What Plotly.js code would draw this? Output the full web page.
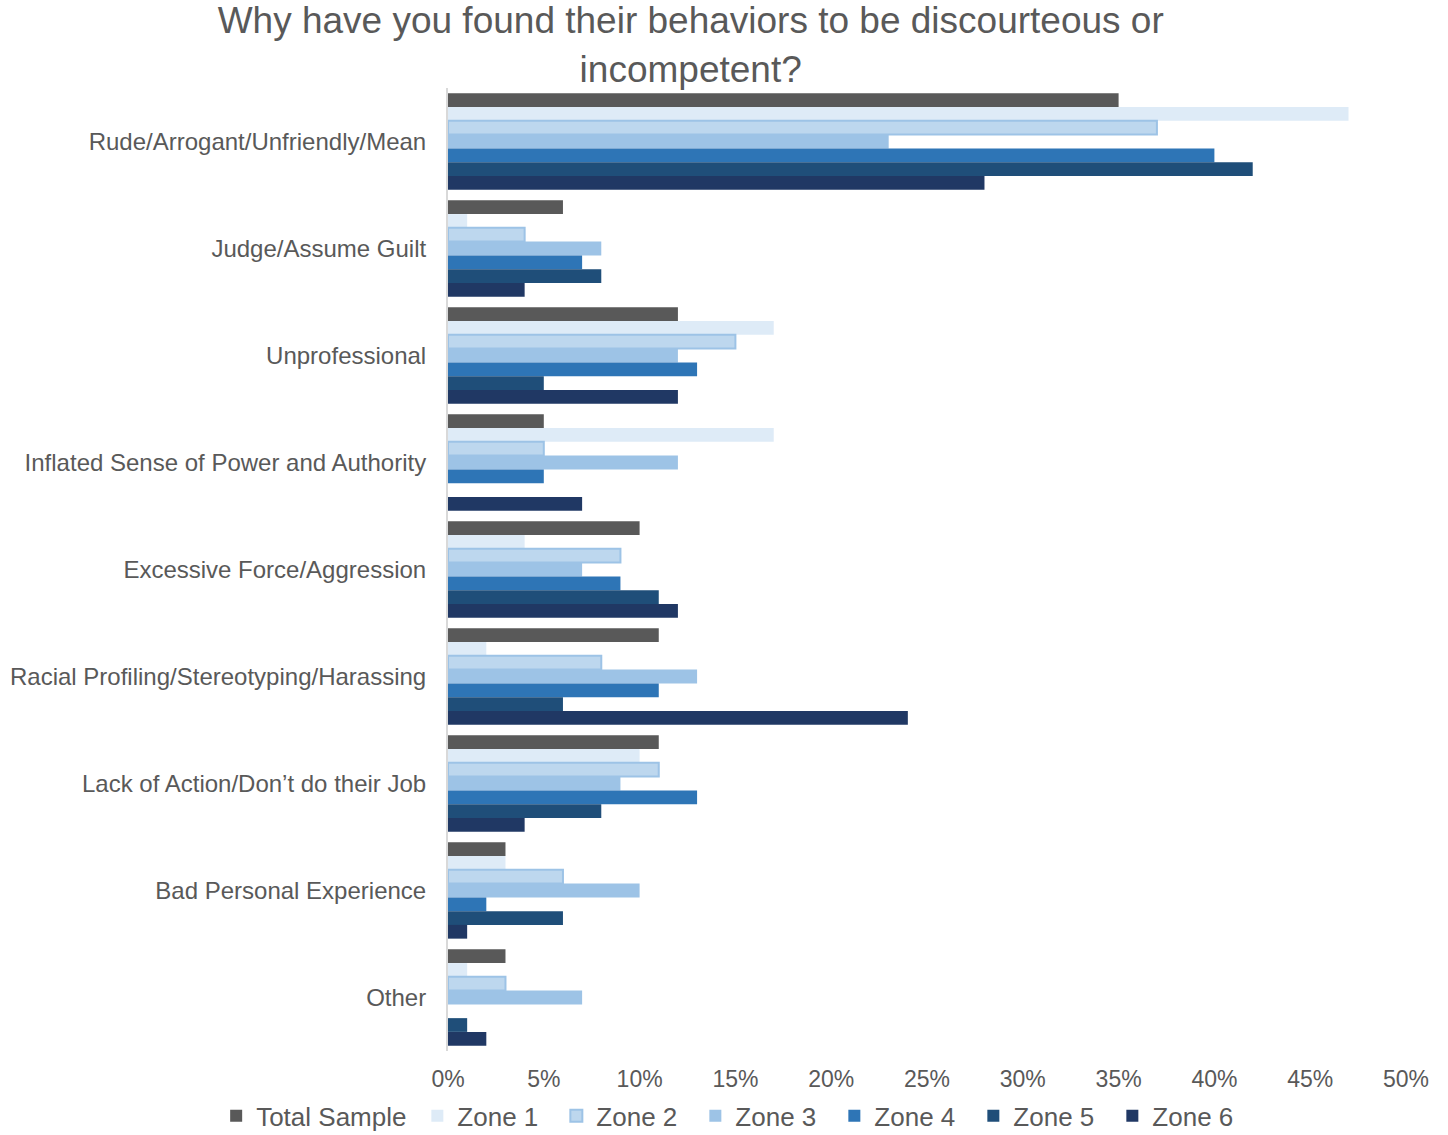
<!DOCTYPE html>
<html>
<head>
<meta charset="utf-8">
<script src="https://cdn.plot.ly/plotly-3.0.1.min.js"></script>
<style>html,body{margin:0;padding:0;background:#fff;}#chart{width:1448px;height:1135px;}</style>
</head>
<body>
<div id="chart"></div>
<script>
const categories = [
  "Rude/Arrogant/Unfriendly/Mean",
  "Judge/Assume Guilt",
  "Unprofessional",
  "Inflated Sense of Power and Authority",
  "Excessive Force/Aggression",
  "Racial Profiling/Stereotyping/Harassing",
  "Lack of Action/Don\u2019t do their Job",
  "Bad Personal Experience",
  "Other"
];
const seriesNames = ["Total Sample", "Zone 1", "Zone 2", "Zone 3", "Zone 4", "Zone 5", "Zone 6"];
const totalSample = [35, 6, 12, 5, 10, 11, 11, 3, 3];
const zone1 = [47, 1, 17, 17, 4, 2, 10, 3, 1];
const zone2 = [37, 4, 15, 5, 9, 8, 11, 6, 3];
const zone3 = [23, 8, 12, 12, 7, 13, 9, 10, 7];
const zone4 = [40, 7, 13, 5, 9, 11, 13, 2, 0];
const zone5 = [42, 8, 5, 0, 11, 6, 8, 6, 1];
const zone6 = [28, 4, 12, 7, 12, 24, 4, 1, 2];
const xTicks = [0, 5, 10, 15, 20, 25, 30, 35, 40, 45, 50];

const seriesValues = [totalSample, zone1, zone2, zone3, zone4, zone5, zone6];
const colors = ["#595959", "#DEEBF7", "#BDD7EE", "#9DC3E6", "#2E75B6", "#1F4E79", "#203864"];
const lineColors = ["#595959", "#DEEBF7", "#9DC3E6", "#9DC3E6", "#2E75B6", "#1F4E79", "#203864"];
const lineWidths = [0, 0, 2, 0, 0, 0, 0];

const traces = seriesNames.map((name, i) => ({
  type: "bar",
  orientation: "h",
  name: name,
  y: categories,
  x: seriesValues[i],
  legend: i === 0 ? "legend" : "legend2",
  marker: {color: colors[i], line: {color: lineColors[i], width: lineWidths[i]}},
  hoverinfo: "x+name"
}));

const legendCommon = {
  orientation: "h",
  xref: "paper", xanchor: "left",
  y: -0.043, yref: "paper", yanchor: "top",
  font: {size: 26, color: "#595959"},
  traceorder: "normal",
  itemwidth: 30,
  tracegroupgap: 0,
  bgcolor: "rgba(0,0,0,0)"
};

const layout = {
  width: 1448,
  height: 1135,
  paper_bgcolor: "#ffffff",
  plot_bgcolor: "#ffffff",
  font: {family: "Liberation Sans, Arial, sans-serif", color: "#595959"},
  title: {
    text: "Why have you found their behaviors to be discourteous or<br>incompetent?",
    font: {size: 37, color: "#595959", family: "Liberation Sans, Arial, sans-serif"},
    x: 0.477, xanchor: "center", xref: "container",
    y: 0.9705, yanchor: "top", yref: "container"
  },
  margin: {l: 448, r: 42, t: 88, b: 84, pad: 0, autoexpand: false},
  barmode: "group",
  bargap: 0.1,
  bargroupgap: 0,
  xaxis: {
    range: [0, 50],
    tickvals: xTicks,
    ticktext: xTicks.map(v => v + "%"),
    showgrid: false,
    zeroline: false,
    showline: false,
    ticks: "",
    ticklabelstandoff: 12,
    tickfont: {size: 23, color: "#595959"},
    fixedrange: true
  },
  yaxis: {
    autorange: "reversed",
    showgrid: false,
    zeroline: false,
    showline: true,
    linecolor: "#D9D9D9",
    linewidth: 2,
    ticks: "",
    ticklabelstandoff: 15,
    tickfont: {size: 24, color: "#595959"},
    fixedrange: true
  },
  legend: Object.assign({}, legendCommon, {x: -0.242}),
  legend2: Object.assign({}, legendCommon, {x: -0.032, entrywidth: 94, entrywidthmode: "pixels"}),
  showlegend: true
};

Plotly.newPlot("chart", traces, layout, {displayModeBar: false, staticPlot: true});
</script>
</body>
</html>
